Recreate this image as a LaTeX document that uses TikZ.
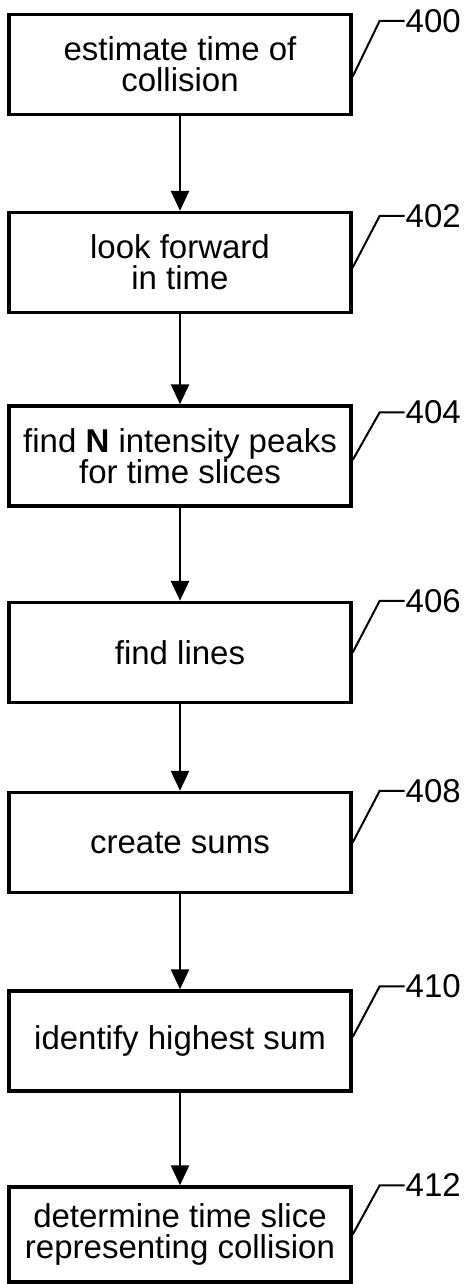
\documentclass[tikz,border=0pt]{standalone}
\usepackage{fontspec}
\setmainfont{Liberation Sans}
\usetikzlibrary{arrows.meta}
\begin{document}
\begin{tikzpicture}[x=1pt,y=1pt,
  stepbox/.style={draw=black, line width=3.4pt, fill=white, minimum width=342pt, minimum height=100pt,
    align=center, inner sep=0pt, font=\fontsize{33}{31}\selectfont},
  flow/.style={line width=2.6pt, -{Triangle[width=18pt,length=20pt]}},
  leader/.style={line width=2pt},
  reflabel/.style={anchor=west, inner sep=0pt, font=\fontsize{33}{33}\selectfont}]
\useasboundingbox (0,0) rectangle (465,-1284);
\node[stepbox] (n400) at (180,-64.5) {estimate time of\\collision};
\node[stepbox] (n402) at (180,-262.5) {look forward\\in time};
\node[stepbox] (n404) at (180,-456) {find \textbf{N} intensity peaks\\for time slices};
\node[stepbox] (n406) at (180,-652.5) {find lines};
\node[stepbox] (n408) at (180,-842.5) {create sums};
\node[stepbox] (n410) at (180,-1041) {identify highest sum};
\node[stepbox, minimum height=95pt] (n412) at (180,-1234.5) {determine time slice\\representing collision};
\draw[flow] (n400) -- (n402);
\draw[flow] (n402) -- (n404);
\draw[flow] (n404) -- (n406);
\draw[flow] (n406) -- (n408);
\draw[flow] (n408) -- (n410);
\draw[flow] (n410) -- (n412);
% reference numerals
\foreach \n/\dy/\sy in {400/-8/-12, 402/-5/-5, 404/-8/-4, 406/0/0, 408/0/0, 410/3/4, 412/0/0}{
  \coordinate (k\n) at ([xshift=27pt,yshift=\dy pt]n\n.north east);
  \coordinate (s\n) at ([yshift=\sy pt]n\n.east);
  \draw[leader] (s\n) -- (k\n) -- ++(25,0) node[reflabel] (r\n) {\n};
}
\end{tikzpicture}
\end{document}
